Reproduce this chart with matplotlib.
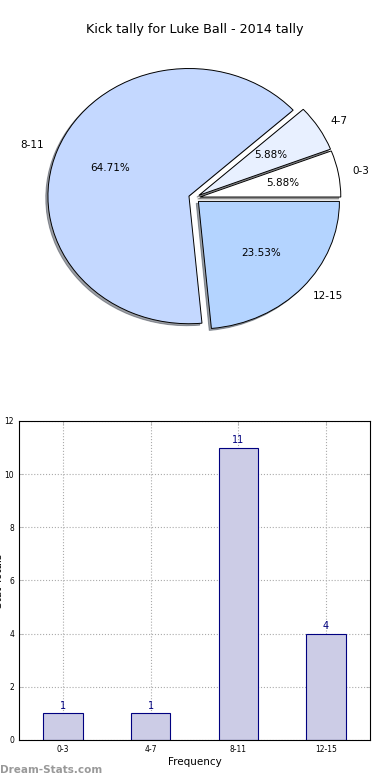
import matplotlib
matplotlib.use("Agg")
import matplotlib.pyplot as plt

title = "Kick tally for Luke Ball - 2014 tally"
categories = ["0-3", "4-7", "8-11", "12-15"]
counts = [1, 1, 11, 4]
pie_colors = ["#ffffff", "#e8f0ff", "#c4d8ff", "#b4d4ff"]
explode = [0.04, 0.04, 0.04, 0.04]
yticks = [0, 2, 4, 6, 8, 10, 12]

fig = plt.figure(figsize=(3.9, 7.8), dpi=100)

# Pie chart
ax1 = fig.add_axes([0.046, 0.5417, 0.904, 0.409])
wedges, texts, autotexts = ax1.pie(
    counts, labels=categories, colors=pie_colors, explode=explode,
    autopct="%1.2f%%", shadow=dict(ox=-0.011, oy=-0.011), startangle=0,
    wedgeprops=dict(edgecolor="black", linewidth=0.7),
    textprops=dict(fontsize=7.5, color="black"))
ax1.set_aspect("auto")
ax1.set_xlim(-1.25, 1.25)
ax1.set_ylim(-1.25, 1.25)
fig.text(0.5, 1 - 30 / 780, title, fontsize=9.2, ha="center", va="center")

# Bar chart
ax2 = fig.add_axes([0.0487, 0.0513, 0.9, 0.409])
x = list(range(len(categories)))
bars = ax2.bar(x, counts, width=0.45, color="#ccccE6", edgecolor="#000080",
               linewidth=0.8, zorder=2)
for xi, c in zip(x, counts):
    ax2.text(xi, c + 0.1, str(c), ha="center", va="bottom", fontsize=7,
             color="#000080")
ax2.set_xlim(-0.5, 3.5)
ax2.set_ylim(0, 12)
ax2.set_xticks(x)
ax2.set_xticklabels(categories)
ax2.set_yticks(yticks)
ax2.tick_params(labelsize=5.5, direction="in", top=True, right=True,
                length=3, width=0.5, colors="black")
ax2.tick_params(axis="both", color="#aaaaaa")
ax2.grid(True, linestyle=":", color="#aaaaaa", linewidth=0.8, zorder=0)
ax2.set_axisbelow(True)
ax2.set_xlabel("Frequency", fontsize=7.5, labelpad=2)
ax2.set_ylabel("Stat Totals", fontsize=7.5)
ax2.yaxis.set_label_coords(-0.043, 0.5)
for s in ax2.spines.values():
    s.set_linewidth(0.8)

fig.text(0.0, 1 - 770 / 780, "Dream-Stats.com", fontsize=7.5,
         fontweight="bold", color="#999999", ha="left", va="center")

fig.savefig("out.png", dpi=100)
